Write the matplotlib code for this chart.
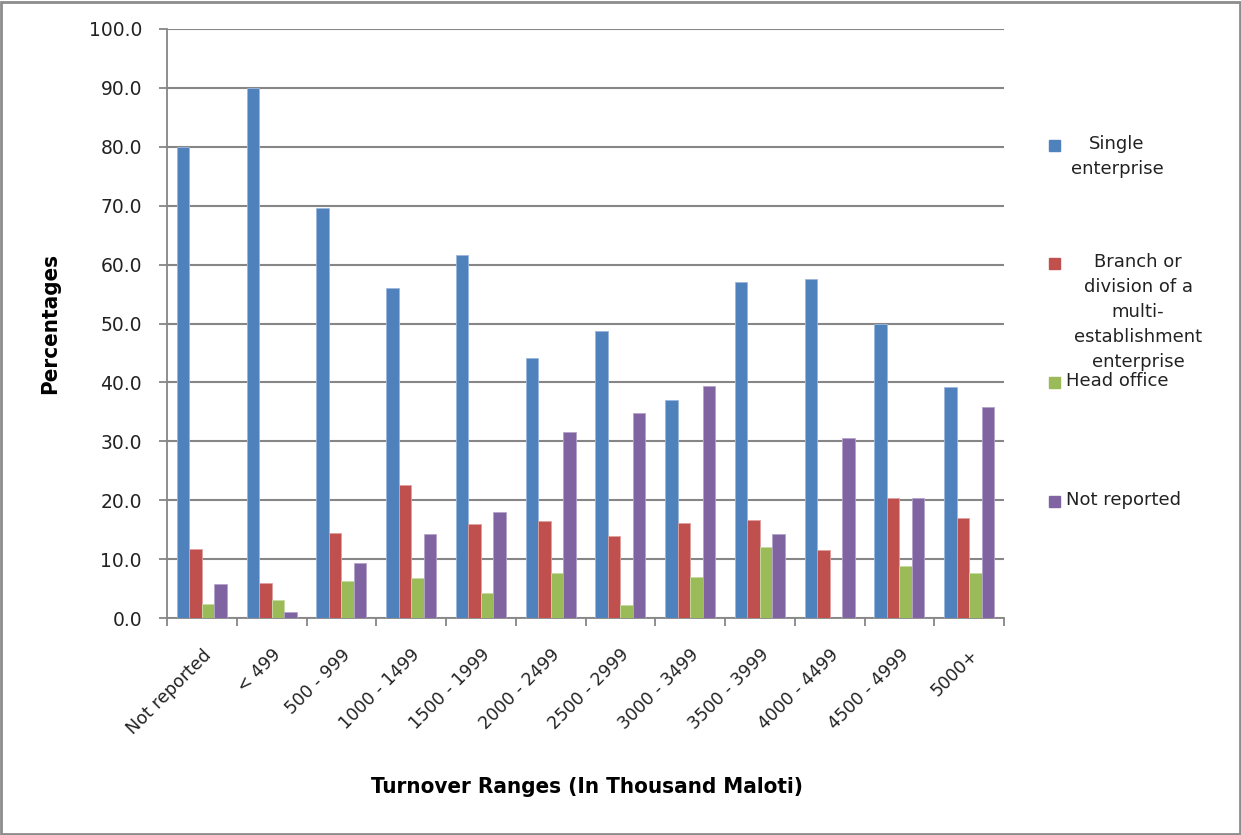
import matplotlib
matplotlib.use('Agg')
import matplotlib.pyplot as plt
from matplotlib.patches import Rectangle
import numpy as np

categories = ['Not reported', '< 499', '500 - 999', '1000 - 1499', '1500 - 1999',
              '2000 - 2499', '2500 - 2999', '3000 - 3499', '3500 - 3999',
              '4000 - 4499', '4500 - 4999', '5000+']

single = [80.0, 90.0, 69.6, 56.1, 61.6, 44.2, 48.7, 37.0, 57.1, 57.6, 50.0, 39.2]
branch = [11.7, 5.9, 14.5, 22.6, 15.9, 16.4, 13.9, 16.2, 16.6, 11.5, 20.4, 16.9]
head = [2.4, 3.0, 6.2, 6.8, 4.2, 7.6, 2.2, 6.9, 12.0, 0.0, 8.8, 7.7]
not_rep = [5.8, 1.0, 9.3, 14.2, 18.0, 31.5, 34.8, 39.4, 14.2, 30.6, 20.4, 35.9]

series = [single, branch, head, not_rep]
labels = ['Single\nenterprise',
          'Branch or\ndivision of a\nmulti-\nestablishment\nenterprise',
          'Head office', 'Not reported']
colors = ['#4F81BD', '#C0504D', '#9BBB59', '#8064A2']
edges = ['#9DB7DE', '#E0A09E', '#C6DAA3', '#B4A3CB']

grey = '#868686'
fig = plt.figure(figsize=(12.41, 8.35), dpi=100)
ax = fig.add_axes([167 / 1241, 1 - 618 / 835, (1004 - 167) / 1241, (618 - 29) / 835])

x = np.arange(len(categories))
w = 0.18
for i, vals in enumerate(series):
    ax.bar(x + (i - 1.5) * w, vals, width=w, color=colors[i], edgecolor=edges[i],
           linewidth=0.6, zorder=3)

ax.set_xlim(-0.5, len(categories) - 0.5)
ax.set_ylim(0, 100)
ax.set_yticks(np.arange(0, 101, 10))
ax.set_yticklabels([f'{v:.1f}' for v in np.arange(0, 101, 10)], fontsize=13.5, color='#222222')
ax.yaxis.grid(True, color=grey, linewidth=1.5, zorder=0)

ax.set_xticks(np.arange(-0.5, len(categories), 1.0))
ax.set_xticklabels([])
ax.set_xticks(x, minor=True)
ax.set_xticklabels(categories, minor=True, rotation=45, ha='right', rotation_mode='anchor',
                   fontsize=12.5, color='#222222')
ax.tick_params(axis='x', which='minor', length=0, pad=20)
ax.tick_params(axis='x', which='major', length=6, color=grey, width=1.3)
ax.tick_params(axis='y', length=6, color=grey, width=1.3, pad=12)

for s in ['top', 'right']:
    ax.spines[s].set_visible(False)
for s in ['left', 'bottom']:
    ax.spines[s].set_color(grey)
    ax.spines[s].set_linewidth(1.3)

fig.text(50 / 1241, 1 - 323 / 835, 'Percentages', fontsize=16, fontweight='bold',
         fontstretch='condensed', rotation=90, ha='center', va='center')
fig.text(587 / 1241, 1 - 787 / 835, 'Turnover Ranges (In Thousand Maloti)', fontsize=16,
         fontweight='bold', fontstretch='condensed', ha='center', va='center')

# legend, laid out like the Excel one
leg_y = [145, 263, 382, 501]
leg_x = [1117, 1138, 1066, 1066]
leg_ha = ['center', 'center', 'left', 'left']
for i in range(4):
    fig.add_artist(Rectangle((1049 / 1241, 1 - (leg_y[i] + 6) / 835), 11 / 1241, 11 / 835,
                             transform=fig.transFigure, color=colors[i]))
    fig.text(leg_x[i] / 1241, 1 - (leg_y[i] - 10) / 835, labels[i], fontsize=13,
             ha=leg_ha[i], va='top', multialignment='center', linespacing=1.5,
             color='#222222')

fig.add_artist(Rectangle((0.001, 0.001), 0.998, 0.997, transform=fig.transFigure,
                         fill=False, edgecolor='#8c8c8c', linewidth=2))

fig.savefig('out.png', dpi=100)
